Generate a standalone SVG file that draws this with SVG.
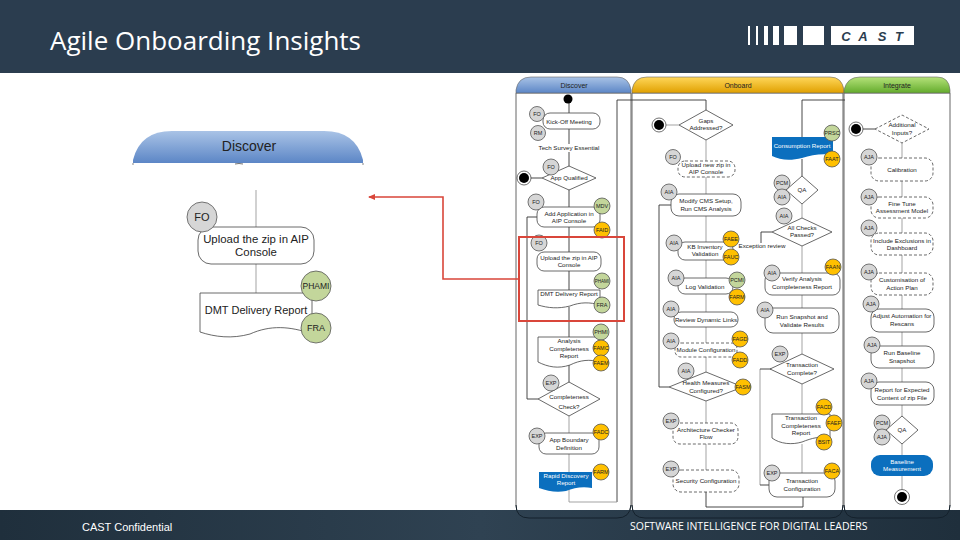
<svg xmlns="http://www.w3.org/2000/svg" width="960" height="540" viewBox="0 0 960 540">
<style>
text{font-family:"Liberation Sans",Arial,sans-serif;fill:#222;text-anchor:middle}
.t{font-size:6.2px}
.c{font-size:5.5px}
.b{stroke:#444;stroke-width:.8;fill:#fff}
.d{stroke:#444;stroke-width:.8;fill:#fff;stroke-dasharray:3 2}
.gy{fill:#d6d6d6;stroke:#555;stroke-width:.8}
.gn{fill:#c3d69b;stroke:#555;stroke-width:.8}
.ye{fill:#ffc000;stroke:#555;stroke-width:.8}
.bl{fill:#0b6fbe}
.l{fill:none;stroke:#999;stroke-width:.9}
.k{fill:none;stroke:#333;stroke-width:.9}
.p{fill:#fff;stroke:#666;stroke-width:1}
.big{font-size:11.4px}
</style>
<defs>
<linearGradient id="gb" x1="0" y1="0" x2="0" y2="1"><stop offset="0" stop-color="#a9c3e6"/><stop offset="1" stop-color="#5c86c6"/></linearGradient>
<linearGradient id="go" x1="0" y1="0" x2="0" y2="1"><stop offset="0" stop-color="#ffd75a"/><stop offset="1" stop-color="#e0a000"/></linearGradient>
<linearGradient id="gg" x1="0" y1="0" x2="0" y2="1"><stop offset="0" stop-color="#b5e27a"/><stop offset="1" stop-color="#63ab2c"/></linearGradient>
<linearGradient id="gf" x1="0" y1="0" x2="1" y2="0"><stop offset="0" stop-color="#1f2f3c"/><stop offset=".5" stop-color="#2f4252"/><stop offset="1" stop-color="#1f2f3c"/></linearGradient>
<marker id="ah" markerWidth="7" markerHeight="6" refX="6" refY="3" orient="auto" markerUnits="userSpaceOnUse"><path d="M0 0L7 3L0 6Z" fill="#d9463a"/></marker>
</defs>
<rect width="960" height="540" fill="#fff"/>
<rect width="960" height="73" fill="#2b3d4f"/>
<text x="50" y="50" font-size="26" style="font-family:'Open Sans',sans-serif;text-anchor:start;fill:#fff">Agile Onboarding Insights</text>
<g id="logo" fill="#fff">
<rect x="748" y="26" width="2" height="19"/><rect x="756" y="26" width="2" height="19"/><rect x="764" y="26" width="4" height="19"/><rect x="773" y="26" width="6" height="19"/><rect x="784" y="26" width="13" height="19"/><rect x="803" y="26" width="21" height="19"/><rect x="831" y="26" width="83" height="19"/>
<text x="846" y="41" font-size="13" font-weight="bold" font-style="italic" style="fill:#2b3d4f">C</text>
<text x="863" y="41" font-size="13" font-weight="bold" font-style="italic" style="fill:#2b3d4f">A</text>
<text x="882" y="41" font-size="13" font-weight="bold" font-style="italic" style="fill:#2b3d4f">S</text>
<text x="899" y="41" font-size="13" font-weight="bold" font-style="italic" style="fill:#2b3d4f">T</text>
</g>

<g id="panels">
<path class="p" d="M516 93V505Q516 518 529 518H617Q630 518 631 505V93Z"/>
<path d="M516 93V90Q518 77 531 77H617Q629 77 631 90V93Z" fill="url(#gb)" stroke="#666" stroke-width=".6"/>
<text x="574" y="88" style="font-size:7px">Discover</text>
<path class="p" d="M632 93V505Q632 518 645 518H830Q843 518 843 505V93Z"/>
<path d="M632 93V90Q634 77 647 77H830Q842 77 844 90V93Z" fill="url(#go)" stroke="#666" stroke-width=".6"/>
<text x="738" y="88" style="font-size:7px">Onboard</text>
<path class="p" d="M844 93V505Q844 518 857 518H937Q950 518 950 505V93Z"/>
<path d="M844 93V90Q847 77 860 77H937Q949 77 950 90V93Z" fill="url(#gg)" stroke="#666" stroke-width=".6"/>
<text x="897" y="88" style="font-size:7px">Integrate</text>
</g>
<rect y="510" width="960" height="30" fill="url(#gf)"/>
<path d="M516 505Q516 518 529 518H617Q630 518 631 505M632 505Q632 518 645 518H830Q843 518 843 505M844 505Q844 518 857 518H937Q950 518 950 505" fill="none" stroke="#14212c" stroke-width="1"/>
<text x="82" y="531" font-size="11" style="text-anchor:start;fill:#fff">CAST Confidential</text>
<text x="630" y="530" font-size="10.5" style="font-family:'Open Sans',sans-serif;text-anchor:start;fill:#fff">SOFTWARE INTELLIGENCE FOR DIGITAL LEADERS</text>

<g id="connectors">
<path class="k" d="M569 99V290M569 307V399"/>
<path class="k" d="M524 178H542M537 217H527V399H538M617 100H706V110M617 100V502"/>
<path class="l" d="M569 399V502H617"/>
<path class="l" d="M659 125H679M706 140V470"/>
<path class="k" d="M706 492V507H803V497M802 100H845M802 100V137M802 159V176"/>
<path class="l" d="M802 204V218M802 246V273M802 295V308M802 333V354M802 384V414M802 444V473"/>
<path class="k" d="M772 232H761V243M671 205H659V387H669"/>
<path class="l" d="M760 369V485"/>
<path class="k" d="M760 369H772M760 485H769"/>
<path class="k" d="M856 129H875"/>
<path class="l" d="M902 143V497"/>
<path class="l" d="M256 190V227M256 264V293"/>
<path fill="none" stroke="#d9463a" stroke-width="1.6" marker-end="url(#ah)" d="M519 279H443V197H369"/>
</g>

<g id="big-discover">
<path d="M133 163V160Q140 131 172 131H324Q356 131 363 160V163Z" fill="url(#gb)"/>
<path d="M133 163V165M363 163V165" stroke="#555" stroke-width=".7"/>
<path d="M235 164Q239 163 243 164" stroke="#333" stroke-width=".7" fill="none"/>
<text x="249" y="151" style="font-size:14px">Discover</text>
</g>
<g id="big-upload"><rect x="198" y="227" width="116" height="37" rx="13" class="b"/><text x="256" y="243" class="big">Upload the zip in AIP</text><text x="256" y="256" class="big">Console</text><circle cx="202" cy="217" r="15" class="gy"/><text x="202" y="221" style="font-size:11px">FO</text></g>
<g id="big-dmt"><path class="b" d="M200 293H312V334C290 326 270 325 250 334C232 339 215 337 200 332Z"/><text x="256" y="314" class="big" style="font-size:11px">DMT Delivery Report</text><circle cx="316" cy="286" r="15" class="gn"/><text x="316" y="289" style="font-size:8.5px">PHAMI</text><circle cx="316" cy="328" r="15" class="gn"/><text x="316" y="331" style="font-size:9px">FRA</text></g>

<g id="n-start1"><circle cx="568" cy="99" r="4.5" fill="#000"/></g>
<g id="n-kickoff"><rect x="543" y="113" width="57" height="16" rx="7" class="b"/><text x="569" y="124" class="t">Kick-Off Meeting</text><circle cx="537" cy="114" r="7.5" class="gy"/><text x="537" y="116" class="c">FO</text><circle cx="538" cy="133" r="7.5" class="gy"/><text x="538" y="135" class="c">RM</text></g>
<g id="n-tech"><rect x="538" y="144" width="62" height="8" fill="#fff"/><text x="569" y="150" class="t">Tech Survey Essential</text></g>
<g id="n-appq"><path class="b" d="M542 178L569 166L596 178L569 190Z"/><text x="569" y="180" class="t">App Qualified</text><circle cx="551" cy="167" r="8" class="gy"/><text x="551" y="169" class="c">FO</text></g>
<g id="n-start2"><circle cx="524" cy="178" r="7" fill="#fff" stroke="#333" stroke-width=".7"/><circle cx="524" cy="178" r="5" fill="#000"/></g>
<g id="n-addapp"><rect x="537" y="207" width="63" height="20" rx="7" class="b"/><text x="569" y="216" class="t">Add Application in</text><text x="569" y="223" class="t">AIP Console</text><circle cx="536" cy="202" r="8" class="gy"/><text x="536" y="204" class="c">FO</text><circle cx="602" cy="206" r="8" class="gn"/><text x="602" y="208" class="c">MDV</text><circle cx="602" cy="230" r="8" class="ye"/><text x="602" y="232" class="c">FAID</text></g>
<g id="n-upload"><rect x="537" y="252" width="64" height="19" rx="7" class="b"/><text x="569" y="260" class="t">Upload the zip in AIP</text><text x="569" y="267" class="t">Console</text><circle cx="539" cy="243" r="8" class="gy"/><text x="539" y="245" class="c">FO</text><circle cx="602" cy="281" r="8" class="gn"/><text x="602" y="283" class="c" style="font-size:4.5px">PHAMI</text></g>
<g id="n-dmt"><path class="b" d="M538 290H600V305C590 302 580 302 570 306C558 309 548 308 538 305Z"/><text x="569" y="296" class="t">DMT Delivery Report</text><circle cx="602" cy="305" r="8" class="gn"/><text x="602" y="307" class="c">FRA</text></g>
<g id="n-analysis"><path class="b" d="M538 337H600V362C590 359 580 360 570 365C558 369 548 367 538 362Z"/><text x="569" y="343" class="t">Analysis</text><text x="569" y="351" class="t">Completeness</text><text x="569" y="358" class="t">Report</text><circle cx="601" cy="332" r="8" class="gn"/><text x="601" y="334" class="c">PHMI</text><circle cx="601" cy="348" r="8" class="ye"/><text x="601" y="350" class="c">FAMC</text><circle cx="601" cy="363" r="8" class="ye"/><text x="601" y="365" class="c">FAEM</text></g>
<g id="n-compl"><path class="b" d="M538 399L569 382L600 399L569 416Z"/><text x="569" y="399" class="t">Completeness</text><text x="569" y="409" class="t">Check?</text><circle cx="551" cy="383" r="8" class="gy"/><text x="551" y="385" class="c">EXP</text></g>
<g id="n-appb"><rect x="539" y="433" width="60" height="21" rx="7" class="b"/><text x="569" y="442" class="t">App Boundary</text><text x="569" y="450" class="t">Definition</text><circle cx="537" cy="436" r="8" class="gy"/><text x="537" y="438" class="c">EXP</text><circle cx="601" cy="432" r="8" class="ye"/><text x="601" y="434" class="c">FADC</text></g>
<g id="n-rapid"><path class="bl" d="M539 472H592V488C582 486 574 488 566 491C556 493 548 491 539 488Z"/><text x="566" y="478" class="t" style="fill:#fff">Rapid Discovery</text><text x="566" y="485" class="t" style="fill:#fff">Report</text><circle cx="601" cy="472" r="8" class="ye"/><text x="601" y="474" class="c">FARM</text></g>

<g id="n-start3"><circle cx="659" cy="125" r="7" fill="#fff" stroke="#333" stroke-width=".7"/><circle cx="659" cy="125" r="5" fill="#000"/></g>
<g id="n-gaps"><path class="b" d="M679 125L706 110L733 125L706 140Z"/><text x="706" y="123" class="t">Gaps</text><text x="706" y="130" class="t">Addressed?</text></g>
<g id="n-upnew"><rect x="678" y="161" width="57" height="16" rx="7" class="d"/><text x="706" y="167" class="t">Upload new zip in</text><text x="706" y="174" class="t">AIP Console</text><circle cx="673" cy="157" r="7.5" class="gy"/><text x="673" y="159" class="c">FO</text></g>
<g id="n-modify"><rect x="671" y="194" width="70" height="22" rx="8" class="b"/><text x="706" y="203" class="t">Modify CMS Setup,</text><text x="706" y="211" class="t">Run CMS Analysis</text><circle cx="669" cy="192" r="8" class="gy"/><text x="669" y="194" class="c">AIA</text></g>
<g id="n-kb"><rect x="678" y="242" width="55" height="18" rx="7" class="b"/><text x="705" y="249" class="t">KB Inventory</text><text x="705" y="256" class="t">Validation</text><circle cx="674" cy="243" r="8" class="gy"/><text x="674" y="245" class="c">AIA</text><circle cx="731" cy="239" r="8" class="ye"/><text x="731" y="241" class="c">FAEE</text><circle cx="731" cy="257" r="8" class="ye"/><text x="731" y="259" class="c">FAUC</text></g>
<g id="n-log"><rect x="678" y="278" width="55" height="16" rx="7" class="b"/><text x="705" y="289" class="t">Log Validation</text><circle cx="676" cy="278" r="8" class="gy"/><text x="676" y="280" class="c">AIA</text><circle cx="737" cy="280" r="8" class="gn"/><text x="737" y="282" class="c">PCMI</text><circle cx="737" cy="297" r="8" class="ye"/><text x="737" y="299" class="c">FARM</text></g>
<g id="n-review"><rect x="674" y="312" width="64" height="15" rx="7" class="b"/><text x="706" y="322" class="t">Review Dynamic Links</text><circle cx="671" cy="309" r="8" class="gy"/><text x="671" y="311" class="c">AIA</text></g>
<g id="n-module"><rect x="675" y="343" width="62" height="14" rx="6" class="d"/><text x="706" y="352" class="t">Module Configuration</text><circle cx="671" cy="341" r="8" class="gy"/><text x="671" y="343" class="c">AIA</text><circle cx="740" cy="339" r="8" class="ye"/><text x="740" y="341" class="c">FAGD</text><circle cx="740" cy="360" r="8" class="ye"/><text x="740" y="362" class="c">FADD</text></g>
<g id="n-health"><path class="b" d="M669 387L706 372L743 387L706 401Z"/><text x="706" y="385" class="t">Health Measures</text><text x="706" y="393" class="t">Configured?</text><circle cx="686" cy="371" r="8" class="gy"/><text x="686" y="373" class="c">AIA</text><circle cx="743" cy="387" r="8" class="ye"/><text x="743" y="389" class="c">FASM</text></g>
<g id="n-arch"><rect x="673" y="423" width="65" height="21" rx="7" class="d"/><text x="706" y="432" class="t">Architecture Checker</text><text x="706" y="439" class="t">Flow</text><circle cx="671" cy="421" r="8" class="gy"/><text x="671" y="423" class="c">EXP</text></g>
<g id="n-sec"><rect x="673" y="470" width="66" height="22" rx="8" class="d"/><text x="706" y="483" class="t">Security Configuration</text><circle cx="671" cy="469" r="8" class="gy"/><text x="671" y="471" class="c">EXP</text></g>
<g id="n-consumption"><path class="bl" d="M772 137H833V155C822 153 812 155 802 158C790 161 780 160 772 156Z"/><text x="802" y="148" class="t" style="fill:#fff">Consumption Report</text><circle cx="832" cy="133" r="8" class="gn"/><text x="832" y="135" class="c">PRSC</text><circle cx="832" cy="159" r="8" class="ye"/><text x="832" y="161" class="c">FAAT</text></g>
<g id="n-qa1"><path class="b" d="M786 190L802 176L818 190L802 204Z"/><text x="802" y="192" class="t">QA</text><circle cx="782" cy="183" r="8" class="gy"/><text x="782" y="185" class="c">PCM</text><circle cx="782" cy="197" r="8" class="gy"/><text x="782" y="199" class="c">AIA</text></g>
<g id="n-allchecks"><path class="b" d="M772 232L802 218L832 232L802 246Z"/><text x="802" y="230" class="t">All Checks</text><text x="802" y="237" class="t">Passed?</text><circle cx="784" cy="216" r="8" class="gy"/><text x="784" y="218" class="c">AIA</text></g>
<g id="n-exc"><text x="762" y="248" class="t">Exception review</text></g>
<g id="n-verify"><rect x="765" y="273" width="75" height="22" rx="7" class="b"/><text x="802" y="281" class="t">Verify Analysis</text><text x="802" y="289" class="t">Completeness Report</text><circle cx="772" cy="273" r="8" class="gy"/><text x="772" y="275" class="c">AIA</text><circle cx="833" cy="267" r="8" class="ye"/><text x="833" y="269" class="c">FAAN</text></g>
<g id="n-snapshot"><rect x="765" y="308" width="74" height="25" rx="8" class="b"/><text x="802" y="319" class="t">Run Snapshot and</text><text x="802" y="327" class="t">Validate Results</text><circle cx="765" cy="310" r="8" class="gy"/><text x="765" y="312" class="c">AIA</text></g>
<g id="n-tcompl"><path class="b" d="M770 369L802 354L834 369L802 384Z"/><text x="802" y="367" class="t">Transaction</text><text x="802" y="375" class="t">Complete?</text><circle cx="780" cy="354" r="8" class="gy"/><text x="780" y="356" class="c">EXP</text></g>
<g id="n-treport"><path class="b" d="M772 414H830V438C820 436 812 438 802 442C792 445 780 444 772 438Z"/><text x="801" y="420" class="t">Transaction</text><text x="801" y="428" class="t">Completeness</text><text x="801" y="435" class="t">Report</text><circle cx="824" cy="407" r="8" class="ye"/><text x="824" y="409" class="c">FACD</text><circle cx="834" cy="423" r="8" class="ye"/><text x="834" y="425" class="c">FAEF</text><circle cx="824" cy="442" r="8" class="ye"/><text x="824" y="444" class="c">BSIT</text></g>
<g id="n-tconf"><rect x="769" y="473" width="66" height="24" rx="8" class="b"/><text x="802" y="483" class="t">Transaction</text><text x="802" y="491" class="t">Configuration</text><circle cx="772" cy="473" r="8" class="gy"/><text x="772" y="475" class="c">EXP</text><circle cx="832" cy="471" r="8" class="ye"/><text x="832" y="473" class="c">FACA</text></g>

<g id="n-start4"><circle cx="856" cy="129" r="7" fill="#fff" stroke="#333" stroke-width=".7"/><circle cx="856" cy="129" r="5" fill="#000"/></g>
<g id="n-addl"><path class="d" d="M875 129L902 115L929 129L902 143Z"/><text x="902" y="127" class="t">Additional</text><text x="902" y="135" class="t">Inputs?</text></g>
<g id="n-calib"><rect x="871" y="158" width="62" height="23" rx="8" class="d"/><text x="902" y="172" class="t">Calibration</text><circle cx="869" cy="157" r="8" class="gy"/><text x="869" y="159" class="c">AJA</text></g>
<g id="n-fine"><rect x="871" y="197" width="62" height="21" rx="8" class="d"/><text x="902" y="206" class="t">Fine Tune</text><text x="902" y="213" class="t">Assessment Model</text><circle cx="869" cy="197" r="8" class="gy"/><text x="869" y="199" class="c">AJA</text></g>
<g id="n-incl"><rect x="871" y="233" width="62" height="22" rx="8" class="d"/><text x="902" y="243" class="t">Include Exclusions in</text><text x="902" y="250" class="t">Dashboard</text><circle cx="869" cy="228" r="8" class="gy"/><text x="869" y="230" class="c">AJA</text></g>
<g id="n-cust"><rect x="871" y="273" width="62" height="22" rx="8" class="d"/><text x="902" y="282" class="t">Customisation of</text><text x="902" y="290" class="t">Action Plan</text><circle cx="869" cy="272" r="8" class="gy"/><text x="869" y="274" class="c">AJA</text></g>
<g id="n-adjust"><rect x="871" y="309" width="63" height="23" rx="8" class="b"/><text x="902" y="318" class="t">Adjust Automation for</text><text x="902" y="326" class="t">Rescans</text><circle cx="871" cy="304" r="8" class="gy"/><text x="871" y="306" class="c">AJA</text></g>
<g id="n-base"><rect x="871" y="346" width="63" height="22" rx="8" class="b"/><text x="902" y="355" class="t">Run Baseline</text><text x="902" y="363" class="t">Snapshot</text><circle cx="872" cy="345" r="8" class="gy"/><text x="872" y="347" class="c">AJA</text></g>
<g id="n-expect"><rect x="871" y="382" width="63" height="23" rx="8" class="b"/><text x="902" y="392" class="t">Report for Expected</text><text x="902" y="400" class="t">Content of zip File</text><circle cx="869" cy="381" r="8" class="gy"/><text x="869" y="383" class="c">AJA</text></g>
<g id="n-qa2"><path class="b" d="M886 430L902 416L918 430L902 444Z"/><text x="902" y="432" class="t">QA</text><circle cx="882" cy="423" r="8" class="gy"/><text x="882" y="425" class="c">PCM</text><circle cx="882" cy="437" r="8" class="gy"/><text x="882" y="439" class="c">AJA</text></g>
<g id="n-baseline"><rect x="871" y="455" width="62" height="21" rx="9" class="bl"/><text x="902" y="464" class="t" style="fill:#fff">Baseline</text><text x="902" y="471" class="t" style="fill:#fff">Measurement</text></g>
<g id="n-end"><circle cx="902" cy="497" r="7.5" fill="#fff" stroke="#333" stroke-width=".7"/><circle cx="902" cy="497" r="5" fill="#000"/></g>

<rect id="highlight" x="519" y="237" width="105" height="84" fill="none" stroke="#d9463a" stroke-width="2"/>
</svg>
